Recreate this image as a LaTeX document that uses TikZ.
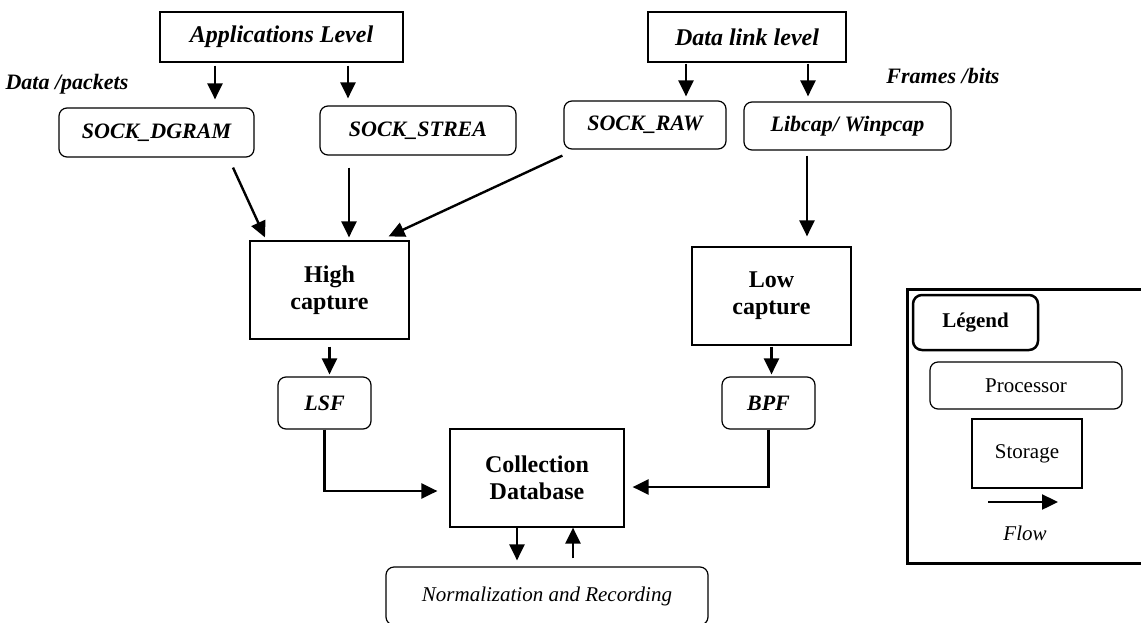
\documentclass[tikz,border=0pt]{standalone}
\usepackage{fontspec}
\setmainfont{Liberation Serif}
\usetikzlibrary{arrows.meta}
\tikzset{wh/.style 2 args={minimum width=#1,minimum height=#2},
  box/.style={draw,line width=1.2pt,inner sep=0pt,align=center},
  level/.style={box,font=\fontsize{24}{27}\selectfont\bfseries\itshape},
  sock/.style={box,rounded corners=8pt,font=\fontsize{22}{25}\selectfont\bfseries\itshape},
  capbox/.style={box,font=\fontsize{24}{27}\selectfont\bfseries},
  note/.style={font=\fontsize{22}{25}\selectfont\bfseries\itshape},
  leg/.style={box,font=\fontsize{21}{24}\selectfont},
  flow/.style={-{Triangle[length=16pt,width=15pt]},line width=2.4pt}}
\begin{document}
\begin{tikzpicture}[x=1pt,y=-1pt]
\useasboundingbox (0,0) rectangle (1141,622);
% levels and sockets
\node[level,wh={243}{50}] (app) at (281.5,37) {Applications Level};
\node[level,wh={198}{50}] (dll) at (747,37) {Data link level};
\node[note] (pkt) at (67,84) {Data /packets};
\node[note] (frm) at (943,76) {Frames /bits};
\node[sock,wh={195}{49}] (dgram) at (156.5,132.5) {SOCK\_DGRAM};
\node[sock,wh={196}{49}] (strea) at (418,130.5) {SOCK\_STREA};
\node[sock,wh={162}{48}] (raw) at (645,125) {SOCK\_RAW};
\node[sock,wh={207}{48}] (libcap) at (847.5,126) {Libcap/ Winpcap};
% capture, filters, storage
\node[capbox,wh={159}{98}] (high) at (329.5,290) {High\\capture};
\node[capbox,wh={159}{98}] (low) at (771.5,296) {Low\\capture};
\node[sock,wh={93}{52}] (lsf) at (324.5,403) {LSF};
\node[sock,wh={93}{52}] (bpf) at (768.5,403) {BPF};
\node[capbox,wh={174}{98}] (cdb) at (537,478) {Collection\\Database};
\node[leg,rounded corners=8pt,wh={322}{58},font=\fontsize{21}{24}\selectfont\itshape] (norm) at (547,596) {Normalization and Recording};
% legend
\node[draw,line width=3pt,wh={253}{274}] (legend) at (1033.5,426) {};
\node[leg,rounded corners=9pt,line width=2.5pt,wh={125}{55},font=\fontsize{21}{24}\selectfont\bfseries] (ltitle) at (975.5,322.5) {Légend};
\node[leg,rounded corners=8pt,wh={192}{47}] (lproc) at (1026,385.5) {Processor};
\node[leg,wh={110}{69}] (lstor) at (1027,453.5) {Storage};
\coordinate (lfa) at (988,502);
\coordinate (lfb) at (1058,502);
\node[font=\fontsize{21}{24}\selectfont\itshape] (lflow) at (1025,533) {Flow};
\draw[flow] (lfa) -- (lfb);
% connectors
\draw[flow,shorten <=3pt,shorten >=8pt] ([xshift=-66.5pt]app.south) -- ([xshift=-66.5pt]app.south |- dgram.north);
\draw[flow,shorten <=3pt,shorten >=7pt] ([xshift=66.5pt]app.south) -- ([xshift=66.5pt]app.south |- strea.north);
\draw[flow,shorten <=1pt,shorten >=4pt] ([xshift=-61pt]dll.south) -- ([xshift=-61pt]dll.south |- raw.north);
\draw[flow,shorten <=1pt,shorten >=5pt] ([xshift=61pt]dll.south) -- ([xshift=61pt]dll.south |- libcap.north);
\draw[flow] ([xshift=76.5pt,yshift=-10pt]dgram.south) -- ([xshift=-64.5pt,yshift=3pt]high.north);
\draw[flow,shorten <=12pt,shorten >=3pt] ([xshift=19.5pt]high.north |- strea.south) -- ([xshift=19.5pt]high.north);
\draw[flow] ([xshift=-1pt,yshift=-6pt]raw.south west) -- ([xshift=-21pt,yshift=4pt]high.north east);
\draw[flow,shorten <=5pt,shorten >=10pt] ([xshift=-40.5pt]libcap.south) -- ([xshift=-40.5pt]libcap.south |- low.north);
\draw[flow,shorten <=7pt,shorten >=2pt] (high.south) -- (high.south |- lsf.north);
\draw[flow,shorten <=1pt,shorten >=2pt] (low.south) -- (low.south |- bpf.north);
\draw[flow,shorten >=12pt] (lsf.south) |- ([yshift=-13pt]cdb.west);
\draw[flow,shorten >=8pt] (bpf.south) |- ([yshift=-9pt]cdb.east);
\draw[flow,shorten >=6pt] ([xshift=-20pt]cdb.south) -- ([xshift=-20pt]cdb.south |- norm.north);
\draw[flow,shorten <=8pt] ([xshift=36pt]cdb.south |- norm.north) -- ([xshift=36pt]cdb.south);
\end{tikzpicture}
\end{document}
